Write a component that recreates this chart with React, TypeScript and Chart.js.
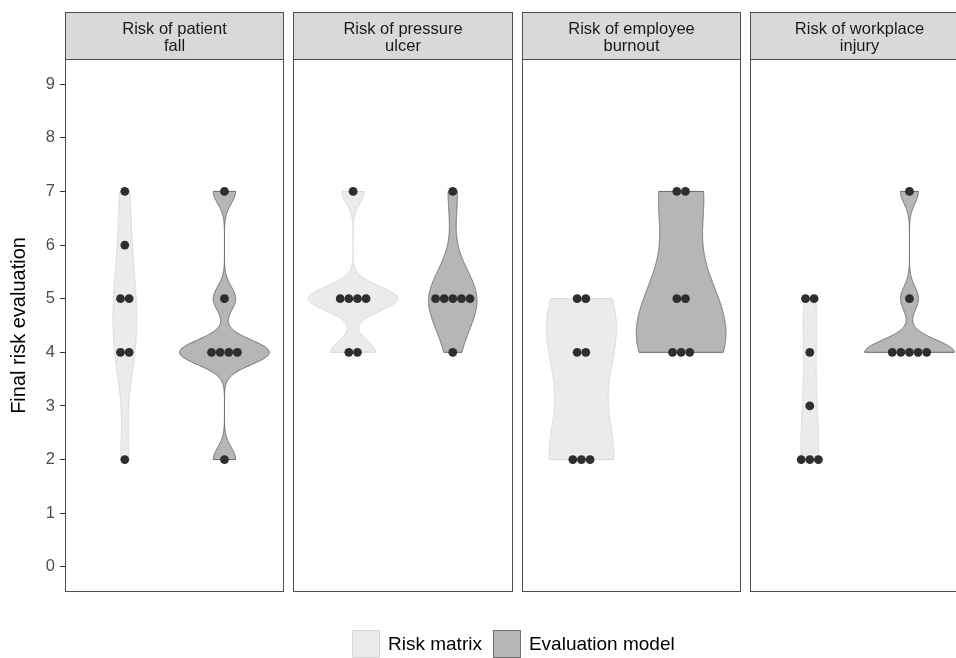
import React, { useEffect, useRef } from 'react';
import { Chart, registerables } from 'chart.js';

Chart.register(...registerables);

// ---------- data ----------
const facetLabels: string[][] = [
  ['Risk of patient', 'fall'],
  ['Risk of pressure', 'ulcer'],
  ['Risk of employee', 'burnout'],
  ['Risk of workplace', 'injury'],
];
const groupNames = ['Risk matrix', 'Evaluation model'];
const riskMatrix: number[][] = [
  [7, 6, 5, 5, 4, 4, 2],
  [7, 5, 5, 5, 5, 4, 4],
  [5, 5, 4, 4, 2, 2, 2],
  [5, 5, 4, 3, 2, 2, 2],
];
const evaluationModel: number[][] = [
  [7, 5, 4, 4, 4, 4, 2],
  [7, 5, 5, 5, 5, 5, 4],
  [7, 7, 5, 5, 4, 4, 4],
  [7, 5, 4, 4, 4, 4, 4],
];
const yTicks = [0, 1, 2, 3, 4, 5, 6, 7, 8, 9];

// ---------- styling / layout constants ----------
const FONT = "'Liberation Sans', Arial, Helvetica, sans-serif";
const fills = ['#ebebeb', '#b6b6b6'];
const strokes = ['#d8d8d8', '#6a6a6a'];
const DOT_COLOR = '#2e2e2e';
const PANEL_W = 2.2; // discrete scale 0.4 .. 2.6
const PANEL_GAP = 0.091;
const STRIDE = PANEL_W + PANEL_GAP;
const X_MAX = 8.94;
const CAT_OFFSET = [0.6, 1.6];
const DOT_STEP = 0.0865; // in x units
const DOT_R = 4.4;
const VIOLIN_WIDTH = 0.9;

const groupsData = [riskMatrix, evaluationModel];

function quantile(sorted: number[], p: number) {
  const h = (sorted.length - 1) * p;
  const lo = Math.floor(h);
  const hi = Math.ceil(h);
  return sorted[lo] + (h - lo) * (sorted[hi] - sorted[lo]);
}
function bwNrd0(x: number[]) {
  const s = [...x].sort((a, b) => a - b);
  const n = s.length;
  const mean = s.reduce((a, b) => a + b, 0) / n;
  const sd = Math.sqrt(s.reduce((a, b) => a + (b - mean) ** 2, 0) / (n - 1));
  const iqr = quantile(s, 0.75) - quantile(s, 0.25);
  let lo = Math.min(sd, iqr / 1.34);
  if (!lo) lo = sd || Math.abs(s[0]) || 1;
  return 0.9 * lo * Math.pow(n, -0.2);
}
function kde(x: number[]) {
  const bw = bwNrd0(x);
  const mn = Math.min(...x);
  const mx = Math.max(...x);
  const N = 512;
  const ys: number[] = [];
  const ds: number[] = [];
  for (let i = 0; i < N; i++) {
    const y = mn + ((mx - mn) * i) / (N - 1);
    let d = 0;
    for (const v of x) {
      const z = (y - v) / bw;
      d += Math.exp(-0.5 * z * z);
    }
    d = d / (x.length * bw * Math.sqrt(2 * Math.PI));
    ys.push(y);
    ds.push(d);
  }
  return { ys, ds };
}

// dots: centered stacks per value
function dotPoints(panel: number, g: number) {
  const vals = groupsData[g][panel];
  const counts = new Map<number, number>();
  vals.forEach((v) => counts.set(v, (counts.get(v) || 0) + 1));
  const pts: { x: number; y: number }[] = [];
  counts.forEach((m, v) => {
    for (let k = 0; k < m; k++) {
      pts.push({ x: panel * STRIDE + CAT_OFFSET[g] + (k - (m - 1) / 2) * DOT_STEP, y: v });
    }
  });
  return pts;
}

const dotData: { x: number; y: number }[] = [];
for (let p = 0; p < facetLabels.length; p++) {
  for (let g = 0; g < 2; g++) dotData.push(...dotPoints(p, g));
}

const facetPlugin = {
  id: 'facets',
  beforeDatasetsDraw(chart: any) {
    const { ctx, chartArea, scales } = chart;
    const xs = scales.x;
    const ys = scales.y;
    ctx.save();
    ctx.beginPath();
    ctx.rect(chartArea.left, chartArea.top, chartArea.right - chartArea.left, chartArea.bottom - chartArea.top);
    ctx.clip();
    for (let p = 0; p < facetLabels.length; p++) {
      const kdes = [0, 1].map((g) => kde(groupsData[g][p]));
      const maxD = Math.max(...kdes.map((k) => Math.max(...k.ds)));
      for (let g = 0; g < 2; g++) {
        const { ys: yy, ds } = kdes[g];
        const c = p * STRIDE + CAT_OFFSET[g];
        ctx.beginPath();
        for (let i = 0; i < yy.length; i++) {
          const hw = (VIOLIN_WIDTH / 2) * (ds[i] / maxD);
          const px = xs.getPixelForValue(c - hw);
          const py = ys.getPixelForValue(yy[i]);
          if (i === 0) ctx.moveTo(px, py);
          else ctx.lineTo(px, py);
        }
        for (let i = yy.length - 1; i >= 0; i--) {
          const hw = (VIOLIN_WIDTH / 2) * (ds[i] / maxD);
          ctx.lineTo(xs.getPixelForValue(c + hw), ys.getPixelForValue(yy[i]));
        }
        ctx.closePath();
        ctx.fillStyle = fills[g];
        ctx.fill();
        ctx.lineWidth = 1;
        ctx.strokeStyle = strokes[g];
        ctx.stroke();
      }
    }
    ctx.restore();
  },
  afterDraw(chart: any) {
    const { ctx, chartArea, scales } = chart;
    const xs = scales.x;
    ctx.save();
    const stripTop = 12.5;
    for (let p = 0; p < facetLabels.length; p++) {
      const l = Math.round(xs.getPixelForValue(p * STRIDE)) + 0.5;
      const r = Math.round(xs.getPixelForValue(p * STRIDE + PANEL_W)) - 0.5;
      const t = Math.round(chartArea.top) - 0.5;
      const b = Math.round(chartArea.bottom) + 0.5;
      // strip
      ctx.fillStyle = '#d9d9d9';
      ctx.fillRect(l, stripTop, r - l, t - stripTop);
      ctx.strokeStyle = '#4d4d4d';
      ctx.lineWidth = 1;
      ctx.strokeRect(l, stripTop, r - l, t - stripTop);
      // panel border
      ctx.strokeRect(l, t, r - l, b - t);
      // strip text
      ctx.fillStyle = '#1a1a1a';
      ctx.font = `16.5px ${FONT}`;
      ctx.textAlign = 'center';
      ctx.textBaseline = 'middle';
      const cx = (l + r) / 2;
      const lines = facetLabels[p];
      const mid = (stripTop + t) / 2 + 2;
      lines.forEach((ln, i) => {
        ctx.fillText(ln, cx, mid + (i - (lines.length - 1) / 2) * 17);
      });
    }
    // legend
    const box = 27;
    const ly = 630;
    ctx.font = `19px ${FONT}`;
    ctx.textAlign = 'left';
    ctx.textBaseline = 'middle';
    let x = 352;
    for (let g = 0; g < 2; g++) {
      ctx.fillStyle = fills[g];
      ctx.fillRect(x + 0.5, ly + 0.5, box, box);
      ctx.strokeStyle = strokes[g];
      ctx.lineWidth = 1;
      ctx.strokeRect(x + 0.5, ly + 0.5, box, box);
      ctx.fillStyle = '#000000';
      ctx.fillText(groupNames[g], x + box + 9, ly + box / 2 + 1);
      x += box + 9 + ctx.measureText(groupNames[g]).width + 11;
    }
    ctx.restore();
  },
};

export default function App() {
  const ref = useRef<HTMLCanvasElement>(null);
  useEffect(() => {
    if (!ref.current) return;
    const chart = new Chart(ref.current, {
      type: 'scatter',
      data: {
        datasets: [
          {
            label: 'dots',
            data: dotData,
            pointRadius: DOT_R,
            pointHoverRadius: DOT_R,
            pointBackgroundColor: DOT_COLOR,
            pointBorderColor: DOT_COLOR,
            pointBorderWidth: 0,
            showLine: false,
          },
        ],
      },
      options: {
        animation: false,
        responsive: true,
        maintainAspectRatio: false,
        layout: { autoPadding: false, padding: { top: 60, bottom: 67, left: 0, right: 0 } },
        plugins: { legend: { display: false }, tooltip: { enabled: false } },
        events: [],
        scales: {
          x: { type: 'linear', min: 0, max: X_MAX, display: false },
          y: {
            type: 'linear',
            min: -0.45,
            max: 9.45,
            afterBuildTicks: (s: any) => {
              s.ticks = yTicks.map((v) => ({ value: v }));
            },
            afterFit: (s: any) => {
              s.width = 65;
            },
            ticks: { font: { size: 16.5, family: FONT }, color: '#4d4d4d', padding: 5 },
            grid: { drawOnChartArea: false, tickLength: 5, color: '#333333', lineWidth: 1 },
            border: { display: false },
            title: {
              display: true,
              text: 'Final risk evaluation',
              font: { size: 20, family: FONT },
              color: '#000000',
              padding: { top: 7, bottom: 0 },
            },
          },
        },
      },
      plugins: [facetPlugin],
    } as any);
    return () => chart.destroy();
  }, []);
  return (
    <div style={{ position: 'fixed', left: 0, top: 0, width: 956, height: 658, background: '#fff' }}>
      <canvas ref={ref} />
    </div>
  );
}
